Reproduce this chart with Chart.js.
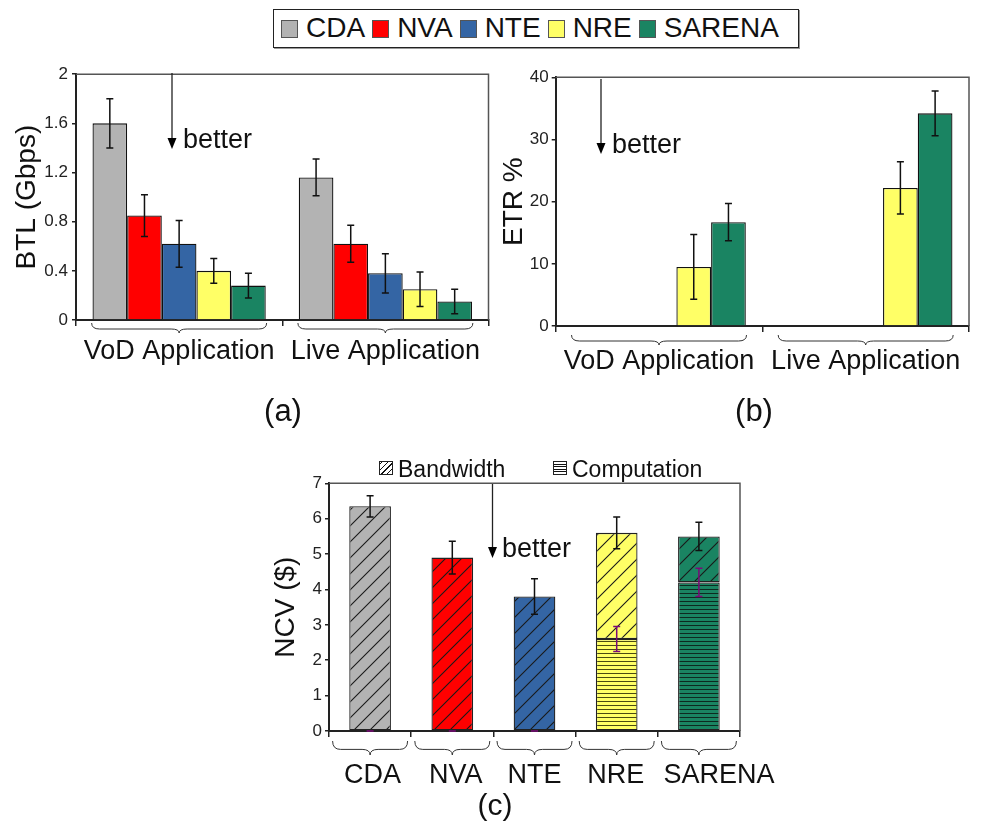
<!DOCTYPE html>
<html>
<head>
<meta charset="utf-8">
<script src="https://cdn.jsdelivr.net/npm/chart.js@4"></script>
<style>
  html, body { margin:0; padding:0; background:#fff; }
  #page { position:relative; width:983px; height:835px; overflow:hidden; font-family:'Liberation Sans', Arial, sans-serif; color:#111; }
  canvas { position:absolute; }
  .txt { position:absolute; white-space:nowrap; line-height:1; }
  #legend { position:absolute; left:273px; top:9px; width:526px; height:39px; border:1px solid #222; box-shadow:1px 1px 0 #999;
            display:flex; align-items:center; padding-left:7px; box-sizing:border-box; }
  #legend .sw { width:17px; height:18px; border:1px solid #555; box-sizing:border-box; margin-right:8px; }
  #legend .lt { font-size:28px; line-height:28px; margin-right:7px; position:relative; top:-1px; }
  .hsw { position:absolute; width:14px; height:14px; border:1px solid #222; box-sizing:border-box; }
</style>
</head>
<body>
<div id="page">
  <div id="legend"></div>
  <canvas id="cA" width="500" height="340" style="left:0px;top:60px;"></canvas>
  <canvas id="cB" width="493" height="340" style="left:490px;top:60px;"></canvas>
  <canvas id="cC" width="560" height="385" style="left:250px;top:450px;"></canvas>

  <div class="txt" style="left:183px;top:126px;font-size:27px;">better</div>
  <div class="txt" style="left:612px;top:131px;font-size:27px;">better</div>
  <div class="txt" style="left:502px;top:535px;font-size:27px;">better</div>

  <div class="txt" style="left:283px;top:395px;font-size:31px;transform:translateX(-50%);">(a)</div>
  <div class="txt" style="left:754px;top:395px;font-size:31px;transform:translateX(-50%);">(b)</div>
  <div class="txt" style="left:495px;top:790px;font-size:30px;transform:translateX(-50%);">(c)</div>

  <div class="hsw" style="left:379px;top:461px;background:repeating-linear-gradient(-45deg,#fff 0 3px,#111 3px 4px);"></div>
  <div class="txt" style="left:398px;top:458px;font-size:23px;">Bandwidth</div>
  <div class="hsw" style="left:553px;top:461px;background:repeating-linear-gradient(0deg,#fff 0 1.6px,#111 1.6px 2.6px);"></div>
  <div class="txt" style="left:572px;top:458px;font-size:23px;">Computation</div>

  <svg width="983" height="835" style="position:absolute;left:0;top:0;pointer-events:none;">
    <line x1="172" y1="73" x2="172" y2="139" stroke="#222" stroke-width="1.3"/>
    <polygon points="167.5,138 176.5,138 172,149" fill="#000"/>
    <line x1="601" y1="79" x2="601" y2="144" stroke="#222" stroke-width="1.3"/>
    <polygon points="596.5,143 605.5,143 601,154" fill="#000"/>
    <line x1="492.5" y1="484" x2="492.5" y2="548" stroke="#222" stroke-width="1.3"/>
    <polygon points="488,547 497,547 492.5,558" fill="#000"/>
  </svg>
</div>
<script>
// ---------------- data ----------------
const series = ['CDA', 'NVA', 'NTE', 'NRE', 'SARENA'];
const seriesColors = ['#b3b3b3', '#ff0000', '#3465a4', '#ffff66', '#1a8462'];
const appCategories = ['VoD Application', 'Live Application'];

// (a) BTL (Gbps) per series: [VoD, Live]
const btlCDA    = [1.60, 1.16];
const btlNVA    = [0.85, 0.62];
const btlNTE    = [0.62, 0.38];
const btlNRE    = [0.40, 0.25];
const btlSARENA = [0.28, 0.15];
const btlErrCDA    = [0.20, 0.15];
const btlErrNVA    = [0.17, 0.15];
const btlErrNTE    = [0.19, 0.16];
const btlErrNRE    = [0.10, 0.14];
const btlErrSARENA = [0.10, 0.10];
const btlTicks = [0, 0.4, 0.8, 1.2, 1.6, 2];

// (b) ETR % per series: [VoD, Live]
const etrCDA    = [0, 0];
const etrNVA    = [0, 0];
const etrNTE    = [0, 0];
const etrNRE    = [9.5, 22.2];
const etrSARENA = [16.7, 34.2];
const etrErrCDA    = [0, 0];
const etrErrNVA    = [0, 0];
const etrErrNTE    = [0, 0];
const etrErrNRE    = [5.2, 4.2];
const etrErrSARENA = [3.0, 3.6];
const etrTicks = [0, 10, 20, 30, 40];

// (c) NCV ($) per scheme
const ncvCategories = ['CDA', 'NVA', 'NTE', 'NRE', 'SARENA'];
const ncvComputation = [0, 0, 0, 2.6, 4.2];
const ncvBandwidth   = [6.35, 4.9, 3.8, 3.0, 1.3];
const ncvTotalErr    = [0.30, 0.46, 0.50, 0.45, 0.40];
const ncvCompErr     = [0, 0, 0, 0.35, 0.40];
const ncvTicks = [0, 1, 2, 3, 4, 5, 6, 7];

const btlValues = [btlCDA, btlNVA, btlNTE, btlNRE, btlSARENA];
const btlErrors = [btlErrCDA, btlErrNVA, btlErrNTE, btlErrNRE, btlErrSARENA];
const etrValues = [etrCDA, etrNVA, etrNTE, etrNRE, etrSARENA];
const etrErrors = [etrErrCDA, etrErrNVA, etrErrNTE, etrErrNRE, etrErrSARENA];

// ---------------- legend ----------------
const leg = document.getElementById('legend');
series.forEach((s, i) => {
  const sw = document.createElement('div'); sw.className = 'sw'; sw.style.background = seriesColors[i];
  const t = document.createElement('div'); t.className = 'lt'; t.textContent = s;
  leg.appendChild(sw); leg.appendChild(t);
});

// ---------------- helpers ----------------
const FONT = "'Liberation Sans', Arial, sans-serif";

function diagPattern(color) {
  const s = 16, c = document.createElement('canvas'); c.width = s; c.height = s;
  const g = c.getContext('2d');
  g.fillStyle = color; g.fillRect(0, 0, s, s);
  g.strokeStyle = '#1a1a1a'; g.lineWidth = 1.1;
  g.beginPath();
  g.moveTo(-2, s + 2); g.lineTo(s + 2, -2);
  g.moveTo(-2, 2); g.lineTo(2, -2);
  g.moveTo(s - 2, s + 2); g.lineTo(s + 2, s - 2);
  g.stroke();
  return g.createPattern(c, 'repeat');
}
function horizPattern(color, line) {
  const c = document.createElement('canvas'); c.width = 8; c.height = 4;
  const g = c.getContext('2d');
  g.fillStyle = color; g.fillRect(0, 0, 8, 4);
  g.fillStyle = line; g.fillRect(0, 3, 8, 1);
  return g.createPattern(c, 'repeat');
}

const errorBarPlugin = {
  id: 'errorBars',
  afterDatasetsDraw(chart) {
    const ctx = chart.ctx, y = chart.scales.y;
    chart.data.datasets.forEach((ds, di) => {
      if (!ds.errorBars) return;
      const meta = chart.getDatasetMeta(di);
      meta.data.forEach((el, i) => {
        const e = ds.errorBars[i];
        if (!e && !ds.errorZero) return;
        const d = y.getPixelForValue(0) - y.getPixelForValue(e || 0);
        const x = el.x, cy = el.y, cap = 3.5;
        ctx.save();
        ctx.strokeStyle = ds.errorColor || '#111';
        ctx.lineWidth = 1.5;
        ctx.beginPath();
        ctx.moveTo(x, cy - d); ctx.lineTo(x, cy + d);
        ctx.moveTo(x - cap, cy - d); ctx.lineTo(x + cap, cy - d);
        ctx.moveTo(x - cap, cy + d); ctx.lineTo(x + cap, cy + d);
        ctx.stroke();
        ctx.restore();
      });
    });
  }
};

const framePlugin = {
  id: 'frame',
  afterDraw(chart) {
    const a = chart.chartArea, ctx = chart.ctx;
    ctx.save();
    ctx.strokeStyle = '#555'; ctx.lineWidth = 1.5;
    ctx.beginPath();
    ctx.moveTo(a.left, a.top); ctx.lineTo(a.right, a.top); ctx.lineTo(a.right, a.bottom);
    ctx.stroke();
    ctx.restore();
  }
};

const bracePlugin = {
  id: 'braces',
  afterDraw(chart, args, opts) {
    const x = chart.scales.x, a = chart.chartArea, ctx = chart.ctx;
    const y0 = a.bottom + opts.offset, h = opts.height, hw = opts.halfWidth, r = 8;
    ctx.save();
    ctx.strokeStyle = '#333'; ctx.lineWidth = 1;
    chart.data.labels.forEach((l, i) => {
      const cx = x.getPixelForValue(i), L = cx - hw, R = cx + hw, ym = y0 + h * 0.6;
      ctx.beginPath();
      ctx.moveTo(L, y0);
      ctx.quadraticCurveTo(L, ym, L + r, ym);
      ctx.lineTo(cx - r, ym);
      ctx.quadraticCurveTo(cx, ym, cx, y0 + h);
      ctx.quadraticCurveTo(cx, ym, cx + r, ym);
      ctx.lineTo(R - r, ym);
      ctx.quadraticCurveTo(R, ym, R, y0);
      ctx.stroke();
    });
    if (opts.labels) {
      ctx.fillStyle = '#111';
      ctx.font = '27px ' + FONT;
      ctx.textAlign = 'center';
      ctx.textBaseline = 'alphabetic';
      chart.data.labels.forEach((l, i) => {
        ctx.fillText(l, x.getPixelForValue(i) + (opts.labelShift[i] || 0), a.bottom + opts.labelBaseline);
      });
    }
    ctx.restore();
  }
};

function baseOptions(cfg) {
  return {
    animation: false, responsive: false, devicePixelRatio: 1,
    layout: { padding: cfg.padding },
    plugins: { legend: { display: false }, tooltip: { enabled: false }, braces: cfg.braces },
    scales: {
      x: {
        stacked: !!cfg.stacked,
        grid: { offset: true, drawOnChartArea: false, tickLength: 6, color: '#222', lineWidth: 1.5 },
        border: { color: '#222', width: 2 },
        ticks: { display: !cfg.hideXLabels, font: { size: 27, family: FONT }, color: '#111', padding: cfg.xPad, maxRotation: 0, autoSkip: false },
        afterFit: s => { s.height = cfg.xHeight; }
      },
      y: {
        stacked: !!cfg.stacked,
        min: cfg.ticks[0], max: cfg.ticks[cfg.ticks.length - 1],
        afterBuildTicks: s => { s.ticks = cfg.ticks.map(v => ({ value: v })); },
        grid: { drawOnChartArea: false, tickLength: 4, color: '#222', lineWidth: 1.5 },
        border: { color: '#222', width: 2 },
        ticks: { font: { size: 17, family: FONT }, color: '#222', padding: cfg.yPad, callback: v => String(v) },
        title: { display: true, text: cfg.yTitle, font: { size: 28, family: FONT }, color: '#111', padding: { top: cfg.titlePad, bottom: 0 } },
        afterFit: s => { s.width = cfg.yWidth; }
      }
    }
  };
}

// ---------------- (a) ----------------
new Chart(document.getElementById('cA'), {
  type: 'bar',
  data: {
    labels: appCategories,
    datasets: series.map((s, i) => ({
      label: s, data: btlValues[i], errorBars: btlErrors[i],
      backgroundColor: seriesColors[i], borderColor: '#111', borderWidth: 1.3,
      categoryPercentage: 0.84, barPercentage: 1
    }))
  },
  options: baseOptions({ padding: { top: 11.7, right: 11.5, left: 0, bottom: 0 }, xHeight: 80, yWidth: 76,
    xPad: 9, yPad: 4, titlePad: 10.7, yTitle: 'BTL (Gbps)', ticks: btlTicks,
    braces: { offset: 3, height: 10, halfWidth: 87.5 } }),
  plugins: [errorBarPlugin, framePlugin, bracePlugin]
});

// ---------------- (b) ----------------
new Chart(document.getElementById('cB'), {
  type: 'bar',
  data: {
    labels: appCategories,
    datasets: series.map((s, i) => ({
      label: s, data: etrValues[i], errorBars: etrErrors[i],
      backgroundColor: seriesColors[i], borderColor: '#111', borderWidth: 1.3,
      categoryPercentage: 0.84, barPercentage: 1
    }))
  },
  options: baseOptions({ padding: { top: 17.3, right: 14, left: 0, bottom: 0 }, xHeight: 74, yWidth: 65.7,
    xPad: 13, yPad: 3, titlePad: 7.2, yTitle: 'ETR %', ticks: etrTicks,
    braces: { offset: 9, height: 10, halfWidth: 87.5 } }),
  plugins: [errorBarPlugin, framePlugin, bracePlugin]
});

// ---------------- (c) ----------------
const compLine = ['#222', '#222', '#222', '#4a4a10', '#0d2a20'];
new Chart(document.getElementById('cC'), {
  type: 'bar',
  data: {
    labels: ncvCategories,
    datasets: [
      { label: 'Computation', data: ncvComputation, errorBars: ncvCompErr, errorZero: true, errorColor: '#7a0a78',
        backgroundColor: seriesColors.map((c, i) => horizPattern(c, compLine[i])),
        borderColor: '#222', borderWidth: 1.3, borderSkipped: false, categoryPercentage: 1, barPercentage: 0.507 },
      { label: 'Bandwidth', data: ncvBandwidth, errorBars: ncvTotalErr,
        backgroundColor: seriesColors.map(c => diagPattern(c)),
        borderColor: '#222', borderWidth: 1.3, borderSkipped: false, categoryPercentage: 1, barPercentage: 0.507 }
    ]
  },
  options: baseOptions({ padding: { top: 33.3, right: 70, left: 0, bottom: 0 }, xHeight: 104, yWidth: 79,
    xPad: 21, yPad: 3, titlePad: 19.2, yTitle: 'NCV ($)', ticks: ncvTicks, stacked: true, hideXLabels: true,
    braces: { offset: 10, height: 14, halfWidth: 37.5, labels: true, labelShift: [2.5, 3.5, 0, -1, 20], labelBaseline: 52 } }),
  plugins: [errorBarPlugin, framePlugin, bracePlugin]
});
</script>
</body>
</html>
